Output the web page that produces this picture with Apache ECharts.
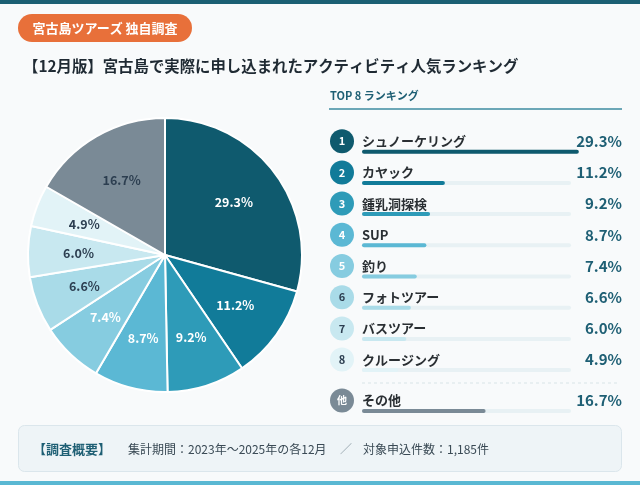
<!DOCTYPE html>
<html>
<head>
<meta charset="utf-8">
<script src="https://cdn.jsdelivr.net/npm/echarts@6/dist/echarts.min.js"></script>
<style>
  html, body { margin: 0; padding: 0; background: #f8fafb; }
  #chart { width: 640px; height: 485px; }
</style>
</head>
<body>
<div id="chart"></div>
<script>
// ranking data (12月版)
const names = ['シュノーケリング', 'カヤック', '鍾乳洞探検', 'SUP', '釣り', 'フォトツアー', 'バスツアー', 'クルージング'];
const shares = [29.3, 11.2, 9.2, 8.7, 7.4, 6.6, 6.0, 4.9];
const otherName = 'その他';
const otherShare = 16.7;

const FONT = '"Noto Sans CJK JP", "Noto Sans", sans-serif';
const colors = ['#0f5a6e', '#117b99', '#2e9bb8', '#5bb8d4', '#86cce0', '#a9dbe8', '#c8e8f0', '#e2f3f7'];
const otherColor = '#7a8a96';
const darkText = '#2c3e50';
const badgeText = ['#fff', '#fff', '#fff', '#fff', '#fff', darkText, darkText, darkText];

const pct = v => v.toFixed(1) + '%';

const pieData = names.map((n, i) => ({
  name: n, value: shares[i],
  itemStyle: { color: colors[i] },
  label: { color: badgeText[i] }
}));
pieData.push({ name: otherName, value: otherShare, itemStyle: { color: otherColor }, label: { color: darkText } });

// rich styles for rank circles
const rich = {
  n: { fontSize: 13, fontWeight: 'bold', color: '#2a2f33', padding: [0, 0, 0, 8], fontFamily: FONT },
  p: { fontSize: 15, lineHeight: 24, fontWeight: 'bold', color: '#1e5f74', fontFamily: FONT }
};
colors.forEach((c, i) => {
  rich['c' + i] = {
    width: 24, height: 24, lineHeight: 24, borderRadius: 12, align: 'center',
    backgroundColor: c, color: badgeText[i], fontSize: 11, fontWeight: 'bold', fontFamily: FONT
  };
});
rich.o = {
  width: 24, height: 24, lineHeight: 24, borderRadius: 12, align: 'center',
  backgroundColor: otherColor, color: '#fff', fontSize: 10, fontWeight: 'bold', fontFamily: FONT
};

const BAR_MAX = 28.24; // track width

function leftAxis(gridIndex, data, formatter) {
  return {
    type: 'category', gridIndex, data, inverse: true,
    axisLine: { show: false }, axisTick: { show: false },
    axisLabel: {
      align: 'left', margin: 32, verticalAlign: 'middle', padding: [0, 0, 21, 0],
      interval: 0, formatter, rich
    }
  };
}
function rightAxis(gridIndex, data) {
  return {
    type: 'category', gridIndex, data, inverse: true, position: 'right',
    axisLine: { show: false }, axisTick: { show: false },
    axisLabel: {
      align: 'right', margin: 51, verticalAlign: 'middle', padding: [0, 0, 21, 0],
      interval: 0, showMinLabel: true, showMaxLabel: true,
      formatter: v => `{p|${v}}`, rich
    }
  };
}

const chart = echarts.init(document.getElementById('chart'));
chart.setOption({
  backgroundColor: '#f8fafb',
  textStyle: { fontFamily: FONT },
  animation: false,
  grid: [
    { left: 362, width: 209, top: 136.1, height: 249.6 },
    { left: 362, width: 209, top: 395.4, height: 31.2 }
  ],
  xAxis: [
    { type: 'value', gridIndex: 0, min: 0, max: BAR_MAX, show: false },
    { type: 'value', gridIndex: 1, min: 0, max: BAR_MAX, show: false }
  ],
  yAxis: [
    leftAxis(0, names, (v, i) => `{c${i}|${i + 1}}{n|${v}}`),
    rightAxis(0, shares.map(pct)),
    leftAxis(1, [otherName], v => `{o|他}{n|${v}}`),
    rightAxis(1, [pct(otherShare)])
  ],
  series: [
    {
      type: 'pie', center: [165, 255], radius: [0, 137], startAngle: 90,
      data: pieData, silent: true,
      itemStyle: { borderColor: '#fff', borderWidth: 2 },
      label: { show: false }, labelLine: { show: false },
      emphasis: { disabled: true }
    },
    {
      // label layer for the pie
      type: 'pie', center: [165, 255], radius: [30, 137], startAngle: 90,
      data: pieData.map(d => ({ name: d.name, value: d.value, label: d.label })),
      silent: true, z: 5,
      itemStyle: { color: 'rgba(0,0,0,0)' },
      label: {
        show: true, position: 'inside', formatter: p => pct(p.value),
        fontSize: 12.5, fontWeight: 'bold', fontFamily: FONT
      },
      labelLine: { show: false },
      emphasis: { disabled: true }
    },
    {
      type: 'bar', xAxisIndex: 0, yAxisIndex: 0, barWidth: 4, clip: false,
      data: shares.map((v, i) => ({ value: v, itemStyle: { color: colors[i] } })),
      itemStyle: { borderRadius: 2 },
      showBackground: true,
      backgroundStyle: { color: '#e8f1f4', borderRadius: 2 },
      silent: true
    },
    {
      type: 'bar', xAxisIndex: 1, yAxisIndex: 2, barWidth: 4, clip: false,
      data: [{ value: otherShare, itemStyle: { color: otherColor } }],
      itemStyle: { borderRadius: 2 },
      showBackground: true,
      backgroundStyle: { color: '#e8f1f4', borderRadius: 2 },
      silent: true
    }
  ],
  graphic: [
    { type: 'rect', shape: { x: 0, y: 0, width: 640, height: 4 }, style: { fill: '#1b5f73' } },
    { type: 'rect', shape: { x: 0, y: 481, width: 640, height: 4 }, style: { fill: '#5ab8d3' } },
    { type: 'rect', shape: { x: 18, y: 14, width: 174, height: 28, r: 14 }, style: { fill: '#e8703a' } },
    {
      type: 'text', x: 105, y: 28.5,
      style: {
        text: '宮古島ツアーズ 独自調査', fill: '#fff', font: 'bold 13px ' + FONT,
        align: 'center', verticalAlign: 'middle', textAlign: 'center', textVerticalAlign: 'middle'
      }
    },
    {
      type: 'text', x: 23, y: 66,
      style: {
        text: '【12月版】宮古島で実際に申し込まれたアクティビティ人気ランキング', fill: '#1f2a33',
        font: 'bold 15.4px ' + FONT, align: 'left', verticalAlign: 'middle', textAlign: 'left', textVerticalAlign: 'middle'
      }
    },
    {
      type: 'text', x: 330, y: 96,
      style: {
        text: 'TOP 8 ランキング', fill: '#1e5f74', font: 'bold 11px ' + FONT,
        align: 'left', verticalAlign: 'middle', textAlign: 'left', textVerticalAlign: 'middle'
      }
    },
    { type: 'line', shape: { x1: 329, y1: 109, x2: 622, y2: 109 }, style: { stroke: '#3e8ba0', lineWidth: 1.5 } },
    { type: 'line', shape: { x1: 362, y1: 383, x2: 620, y2: 383 }, style: { stroke: '#d8e4e8', lineWidth: 1, lineDash: [3, 3] } },
    {
      type: 'rect', shape: { x: 18.5, y: 425.5, width: 603, height: 46, r: 6 },
      style: { fill: '#eef4f7', stroke: '#dbe6ec', lineWidth: 1 }
    },
    {
      type: 'text', x: 33, y: 449,
      style: {
        text: '【調査概要】', fill: '#1e5f74', font: 'bold 13px ' + FONT,
        align: 'left', verticalAlign: 'middle', textAlign: 'left', textVerticalAlign: 'middle'
      }
    },
    {
      type: 'text', x: 128, y: 449,
      style: {
        text: '集計期間：2023年～2025年の各12月', fill: '#3a4a55', font: '12px ' + FONT,
        align: 'left', verticalAlign: 'middle', textAlign: 'left', textVerticalAlign: 'middle'
      }
    },
    {
      type: 'text', x: 340, y: 449,
      style: {
        text: '／', fill: '#9aa8b0', font: '12px ' + FONT,
        align: 'left', verticalAlign: 'middle', textAlign: 'left', textVerticalAlign: 'middle'
      }
    },
    {
      type: 'text', x: 363, y: 449,
      style: {
        text: '対象申込件数：1,185件', fill: '#3a4a55', font: '12px ' + FONT,
        align: 'left', verticalAlign: 'middle', textAlign: 'left', textVerticalAlign: 'middle'
      }
    }
  ]
});
</script>
</body>
</html>
